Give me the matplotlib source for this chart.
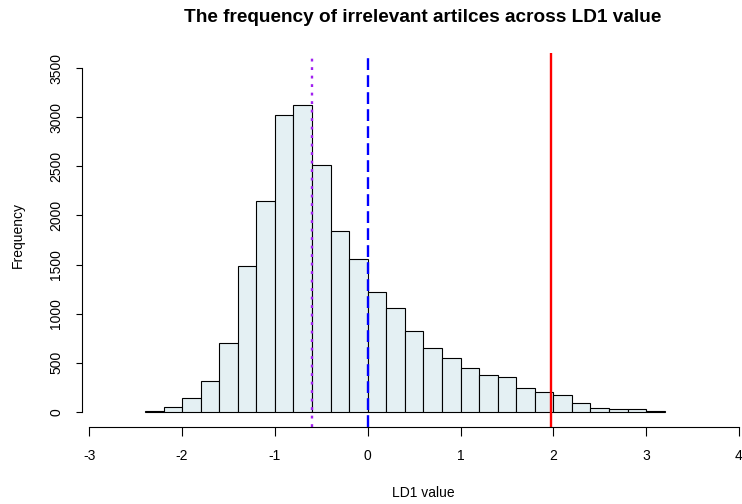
"""Histogram of LD1 scores for irrelevant articles, with reference lines."""

import matplotlib

matplotlib.use("Agg")
import matplotlib.pyplot as plt

plt.rcParams["font.family"] = ["Liberation Sans", "DejaVu Sans"]

# histogram bins (LD1 value) and counts per bin
bin_edges = [-2.4, -2.2, -2.0, -1.8, -1.6, -1.4, -1.2, -1.0, -0.8, -0.6,
             -0.4, -0.2, 0.0, 0.2, 0.4, 0.6, 0.8, 1.0, 1.2, 1.4,
             1.6, 1.8, 2.0, 2.2, 2.4, 2.6, 2.8, 3.0, 3.2]
counts = [10, 47, 138, 308, 703, 1487, 2146, 3028, 3130, 2512,
          1837, 1558, 1224, 1053, 824, 646, 547, 445, 377, 357,
          238, 200, 170, 88, 41, 23, 23, 9]

# reference lines
mean_ld1 = -0.6
zero_ld1 = 0.0
cutoff_ld1 = 1.98

x_ticks = [-3, -2, -1, 0, 1, 2, 3, 4]
y_ticks = [0, 500, 1000, 1500, 2000, 2500, 3000, 3500]

W, H = 742, 504
fig = plt.figure(figsize=(W / 100, H / 100), dpi=100, facecolor="white")
ax = fig.add_axes([81.7 / W, 1 - 427 / H, 682.3 / W, 374 / H])

ax.hist(bin_edges[:-1], bins=bin_edges, weights=counts,
        color="#E4F0F3", edgecolor="black", linewidth=0.8)

ax.axvline(mean_ld1, color="#A020F0", linewidth=1.7, linestyle=(0, (1.2, 2.4)))
ax.axvline(zero_ld1, color="#0000FF", linewidth=1.7, linestyle=(0, (5, 2.2)))
ax.axvline(cutoff_ld1, color="#FF0000", linewidth=1.7)

ax.set_xlim(-3.082, 4.27)
ax.set_ylim(-156, 3656)

for side in ("top", "right"):
    ax.spines[side].set_visible(False)
ax.spines["left"].set_bounds(0, 3500)
ax.spines["bottom"].set_bounds(-3, 4)
for side in ("left", "bottom"):
    ax.spines[side].set_linewidth(0.8)

ax.set_xticks(x_ticks)
ax.set_xticklabels([str(v) for v in x_ticks])
ax.set_yticks(y_ticks)
ax.set_yticklabels([str(v) for v in y_ticks], rotation=90, va="center")
ax.tick_params(axis="x", length=6.5, width=0.8, pad=9, labelsize=10)
ax.tick_params(axis="y", length=4.2, width=0.8, pad=9, labelsize=10)

fig.text(423 / W, 1 - 17 / H, "The frequency of irrelevant artilces across LD1 value",
         ha="center", va="center", fontsize=13.7, fontweight="bold")
fig.text(423 / W, 1 - 493 / H, "LD1 value", ha="center", va="center", fontsize=10)
fig.text(18 / W, 1 - 235 / H, "Frequency", ha="center", va="center",
         rotation=90, fontsize=10)

fig.savefig("out.png", dpi=100, facecolor="white")
